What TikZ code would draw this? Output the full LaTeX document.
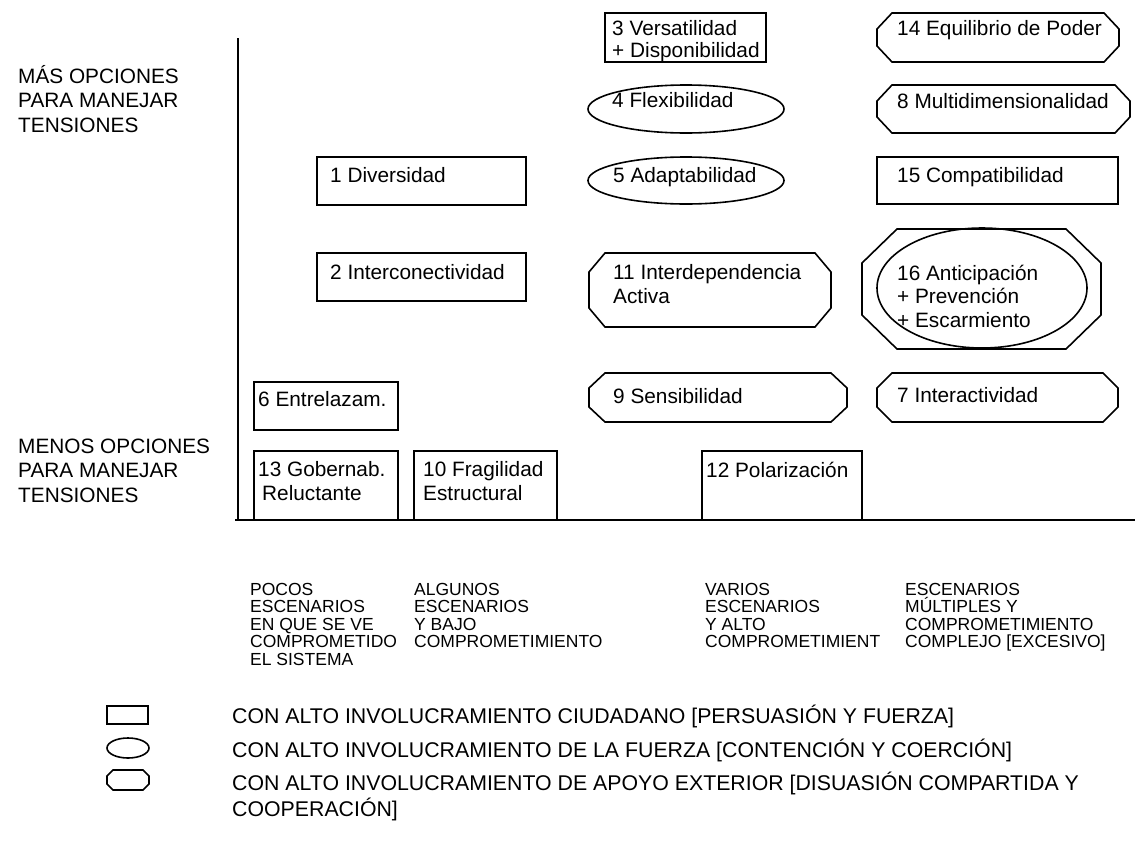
\documentclass[tikz,border=0pt]{standalone}
\usepackage{fontspec}
\setmainfont{Liberation Sans}
\usetikzlibrary{shapes.geometric}
\tikzset{
  ln/.style={line width=1.6pt, line join=miter},
  boxst/.style={draw, ln, rectangle, inner sep=0pt, outer sep=0pt, anchor=north west},
  frame/.style={rectangle, inner sep=0pt, outer sep=0pt, anchor=north west},
  ell/.style={draw, ln, ellipse, inner sep=0pt, outer sep=0pt},
  lbl/.style={anchor=base west, inner sep=0pt, align=left, font=\fontsize{20.8}{23.5}\selectfont},
  side/.style={anchor=base west, inner sep=0pt, align=left, font=\fontsize{20.8}{24.5}\selectfont},
  small/.style={anchor=base west, inner sep=0pt, align=left, font=\fontsize{17.5}{17.5}\selectfont},
  leg/.style={anchor=base west, inner sep=0pt, align=left, font=\fontsize{21.3}{26}\selectfont},
}
\newcommand\mkbox[6]{\node[#2, minimum width={#5-#3}, minimum height={#6-#4}] (#1) at (#3,#4) {};}
\newcommand\octo[3]{\draw[ln] ([xshift=#2]#1.north west) -- ([xshift=-#2]#1.north east) -- ([yshift=-#3]#1.north east) -- ([yshift=#3]#1.south east) -- ([xshift=-#2]#1.south east) -- ([xshift=#2]#1.south west) -- ([yshift=#3]#1.south west) -- ([yshift=-#3]#1.north west) -- cycle;}
\begin{document}
\begin{tikzpicture}[x=1pt,y=-1pt]
\useasboundingbox (0,0) rectangle (1135,854);
% axes
\coordinate (ytop) at (238,38);
\coordinate (orig) at (238,520);
\coordinate (xstart) at (235,520);
\coordinate (xend) at (1135,520);
\draw[ln] (ytop) -- (orig);
\draw[ln] (xstart) -- (xend);
% side labels (anchor = baseline of last line)
\node[side] (mas) at (18,132) {MÁS OPCIONES\\PARA MANEJAR\\TENSIONES};
\node[side] (menos) at (18,502) {MENOS OPCIONES\\PARA MANEJAR\\TENSIONES};
% rectangles
\mkbox{b1}{boxst}{317}{157}{526}{205}
\mkbox{b2}{boxst}{317}{253}{526}{301}
\mkbox{b6}{boxst}{254}{382}{398}{430}
\mkbox{b13}{boxst}{254}{451}{398}{520}
\mkbox{b10}{boxst}{414}{451}{557}{520}
\mkbox{b12}{boxst}{702}{451}{862}{520}
\mkbox{b3}{boxst}{605}{13}{766}{62}
\mkbox{b15}{boxst}{877}{157}{1118}{204}
\node[lbl] (t1) at (330,182) {1 Diversidad};
\node[lbl] (t2) at (330,279) {2 Interconectividad};
\node[lbl] (t6) at (258,406) {6 Entrelazam.};
\node[lbl] (t13) at (258,500) {13 Gobernab.\\\hspace*{4pt}Reluctante};
\node[lbl] (t10) at (423,500) {10 Fragilidad\\Estructural};
\node[lbl] (t12) at (706,477) {12 Polarización};
\node[lbl, font=\fontsize{20.8}{22}\selectfont] (t3) at (612,57) {3 Versatilidad\\+ Disponibilidad};
\node[lbl] (t15) at (897,182) {15 Compatibilidad};
% ellipses
\node[ell, minimum width=196, minimum height=48] (e4) at (686,109) {};
\node[ell, minimum width=196, minimum height=47] (e5) at (686,180.5) {};
\node[lbl] (t4) at (612,107) {4 Flexibilidad};
\node[lbl] (t5) at (613,182) {5 Adaptabilidad};
% octagons
\mkbox{o14}{frame}{877}{13}{1119}{62}
\mkbox{o8}{frame}{877}{85}{1130}{133}
\mkbox{o11}{frame}{589}{253}{831}{327}
\mkbox{o16}{frame}{862}{229}{1101}{349}
\mkbox{o9}{frame}{589}{373}{847}{422}
\mkbox{o7}{frame}{877}{373}{1118}{422}
\octo{o14}{15pt}{16pt}
\octo{o8}{15pt}{16pt}
\octo{o11}{16pt}{19pt}
\octo{o16}{35pt}{34pt}
\octo{o9}{16pt}{15pt}
\octo{o7}{15pt}{15pt}
\node[ell, minimum width=210, minimum height=120] (e16) at (982,288) {};
\node[lbl] (t14) at (897,35) {14 Equilibrio de Poder};
\node[lbl] (t8) at (897,108) {8 Multidimensionalidad};
\node[lbl, font=\fontsize{20.8}{24}\selectfont] (t11) at (613,303) {11 Interdependencia\\Activa};
\node[lbl] (t16) at (897,327) {16 Anticipación\\+ Prevención\\+ Escarmiento};
\node[lbl] (t9) at (613,403) {9 Sensibilidad};
\node[lbl] (t7) at (897,402) {7 Interactividad};
% bottom labels (anchor = baseline of last line; first line at 595)
\node[small] (c1) at (250,665) {POCOS\\ESCENARIOS\\EN QUE SE VE\\COMPROMETIDO\\EL SISTEMA};
\node[small] (c2) at (414,647.5) {ALGUNOS\\ESCENARIOS\\Y BAJO\\COMPROMETIMIENTO};
\node[small] (c3) at (705,647.5) {VARIOS\\ESCENARIOS\\Y ALTO\\COMPROMETIMIENT};
\node[small] (c4) at (905,647.5) {ESCENARIOS\\MÚLTIPLES Y\\COMPROMETIMIENTO\\COMPLEJO [EXCESIVO]};
% legend
\mkbox{lr}{boxst}{107}{706}{148}{724}
\node[ell, minimum width=42, minimum height=20] (le) at (128,748) {};
\mkbox{lo}{frame}{107}{770}{149}{790}
\octo{lo}{6pt}{6pt}
\node[leg] (l1) at (232,723) {CON ALTO INVOLUCRAMIENTO CIUDADANO [PERSUASIÓN Y FUERZA]};
\node[leg] (l2) at (232,757) {CON ALTO INVOLUCRAMIENTO DE LA FUERZA [CONTENCIÓN Y COERCIÓN]};
\node[leg] (l3) at (232,816) {CON ALTO INVOLUCRAMIENTO DE APOYO EXTERIOR [DISUASIÓN COMPARTIDA Y\\COOPERACIÓN]};
\end{tikzpicture}
\end{document}
